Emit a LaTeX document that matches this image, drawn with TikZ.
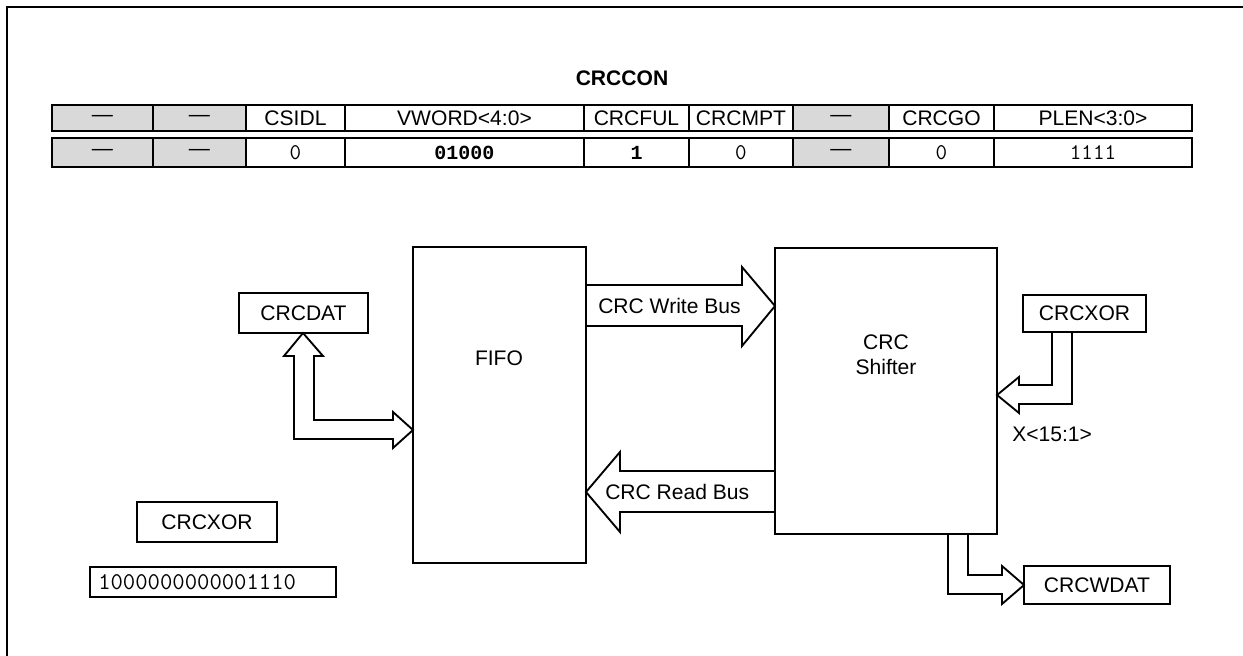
\documentclass[tikz,border=0pt]{standalone}
\usepackage{fontspec}
\setmainfont{Liberation Sans}
\newfontfamily\monobold{Liberation Mono}
\definecolor{cellgray}{HTML}{D9D9D9}
\newcommand\bnode[7]{\node[#6, minimum width={(#4-#2)*0.75pt}, minimum height={(#5-#3)*0.75pt}] (#1) at ({(#2+#4)/2},{(#3+#5)/2}) {#7};}
\begin{document}
\begin{tikzpicture}[x=0.75pt,y=-0.75pt, line join=miter,
  sf/.style={font=\fontsize{15.8}{18.8}\selectfont, inner sep=0pt},
  mono/.style={font=\ttfamily\fontsize{16.8}{19}\selectfont, inner sep=0pt},
  monob/.style={font=\monobold\bfseries\fontsize{15}{17}\selectfont, inner sep=0pt},
  monobig/.style={font=\ttfamily\fontsize{18}{20}\selectfont, inner sep=0pt},
  tcell/.style={draw, line width=2pt, inner sep=0pt, outer sep=0pt},
  bx/.style={draw, line width=1.5pt, inner sep=0pt, outer sep=0pt, font=\fontsize{15.8}{18.8}\selectfont},
  busarrow/.style={draw, line width=1.4pt},
  frame/.style={draw, line width=1.6pt}]
\useasboundingbox (0,0) rectangle (1243,656);
% frame
\draw[frame] (7,660) -- (7,7) -- (1247,7);
% title
\node[sf, font=\fontsize{15.8}{18.8}\selectfont\bfseries] (title) at (622,78) {CRCCON};
% row 1
\bnode{a1}{52}{105}{153}{131}{tcell,fill=cellgray,sf}{\textemdash}
\bnode{a2}{153}{105}{246}{131}{tcell,fill=cellgray,sf}{\textemdash}
\bnode{a3}{246}{105}{345}{131}{tcell,sf}{CSIDL}
\bnode{a4}{345}{105}{584}{131}{tcell,sf}{VWORD<4:0>}
\bnode{a5}{584}{105}{689}{131}{tcell,sf}{CRCFUL}
\bnode{a6}{689}{105}{793}{131}{tcell,sf}{CRCMPT}
\bnode{a7}{793}{105}{889}{131}{tcell,fill=cellgray,sf}{\textemdash}
\bnode{a8}{889}{105}{994}{131}{tcell,sf}{CRCGO}
\bnode{a9}{994}{105}{1192}{131}{tcell,sf}{PLEN<3:0>}
% row 2
\bnode{b1}{52}{138}{153}{167}{tcell,fill=cellgray,sf}{\textemdash}
\bnode{b2}{153}{138}{246}{167}{tcell,fill=cellgray,sf}{\textemdash}
\bnode{b3}{246}{138}{345}{167}{tcell,mono}{0}
\bnode{b4}{345}{138}{584}{167}{tcell,monob}{01000}
\bnode{b5}{584}{138}{689}{167}{tcell,monob}{1}
\bnode{b6}{689}{138}{793}{167}{tcell,mono}{0}
\bnode{b7}{793}{138}{889}{167}{tcell,fill=cellgray,sf}{\textemdash}
\bnode{b8}{889}{138}{994}{167}{tcell,mono}{0}
\bnode{b9}{994}{138}{1192}{167}{tcell,mono}{1111}
% main blocks
\bnode{fifo}{413}{247}{586}{563}{bx}{}
\node[sf] (fifolbl) at (499,358) {FIFO};
\bnode{shifter}{775}{248}{997}{534}{bx}{}
\node[sf, align=center] (shiftlbl) at (886,355) {CRC\\Shifter};
\bnode{crcdat}{239}{293}{368}{333}{bx}{CRCDAT}
\bnode{xorr}{1023}{295}{1146}{332}{bx}{CRCXOR}
\bnode{wdat}{1024}{566}{1170}{604}{bx}{CRCWDAT}
\bnode{xorl}{137}{502}{277}{542}{bx}{CRCXOR}
\bnode{xorval}{90}{567}{336}{597}{bx}{}
\node[monobig, anchor=west] (xorvaltxt) at (98,582) {1000000000001110};
% bus arrows
\draw[busarrow] (586,285) -- (742,285) -- (742,267) -- (775,306) -- (742,346) -- (742,326) -- (586,326);
\node[sf, anchor=west] (wlbl) at (598,306) {CRC Write Bus};
\draw[busarrow] (775,471) -- (620,471) -- (620,452) -- (586,492) -- (620,532) -- (620,512) -- (775,512);
\node[sf, anchor=west] (rlbl) at (605,492) {CRC Read Bus};
\draw[busarrow] (303,333) -- (323,356) -- (314,356) -- (314,420) -- (393,420) -- (393,412) -- (413,430) -- (393,448) -- (393,439) -- (294,439) -- (294,356) -- (284,356) -- cycle;
\draw[busarrow] (1052,332) -- (1052,385) -- (1019,385) -- (1019,377) -- (997,395) -- (1019,413) -- (1019,404) -- (1072,404) -- (1072,332);
\node[sf, anchor=west] (xlbl) at (1012,434) {X<15:1>};
\draw[busarrow] (948,534) -- (948,594) -- (1002,594) -- (1002,604) -- (1024,585) -- (1002,566) -- (1002,575) -- (968,575) -- (968,534);
\end{tikzpicture}
\end{document}
